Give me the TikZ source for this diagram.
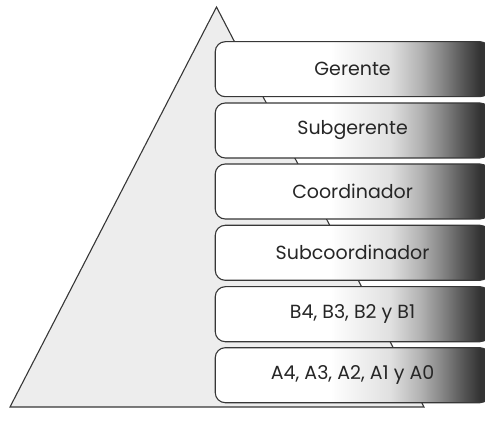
\documentclass[tikz,border=0pt]{standalone}
\usepackage{fontspec}
\setmainfont{Poppins}
\usepackage{tikz}
\usetikzlibrary{positioning}
\pgfdeclarehorizontalshading{tiershade}{100bp}{%
  color(0bp)=(white); color(45.9bp)=(white); color(56.8bp)=(black!12);
  color(62.3bp)=(black!30); color(66.8bp)=(black!50); color(70.5bp)=(black!68);
  color(73.2bp)=(black!80); color(100bp)=(black!82)}
\definecolor{edgecolor}{RGB}{55,55,55}
\definecolor{pyrcolor}{RGB}{237,237,237}
\tikzset{
  pyramid/.style={draw=edgecolor, fill=pyrcolor, line width=1.1pt, line join=miter},
  tier/.style={draw=edgecolor, line width=1.1pt, rounded corners=10pt, shading=tiershade,
    minimum width=274.7pt, minimum height=55pt, inner sep=0pt, outer sep=0pt,
    text=black!85, font=\fontsize{19}{22}\selectfont},
}

\begin{document}
\begin{tikzpicture}[x=1pt, y=-1pt]
    \useasboundingbox (0,0) rectangle (485,422);
    % pyramid
    \draw[pyramid] (216.5,7) -- (424,407) -- (10,407) -- cycle;
    % tiers
    \begin{scope}
    \clip (0,0) rectangle (485,422);
    \node[tier] (gerente) at (352.6,69.2) {Gerente};
    \node[tier] (subgerente) at (352.6,130.5) {Subgerente};
    \node[tier] (coordinador) at (352.6,191.5) {Coordinador};
    \node[tier] (subcoordinador) at (352.6,252.8) {Subcoordinador};
    \node[tier] (nivelb) at (352.6,314.2) {B4, B3, B2 y B1};
    \node[tier] (nivela) at (352.6,375.2) {A4, A3, A2, A1 y A0};
    \end{scope}
\end{tikzpicture}
\end{document}
